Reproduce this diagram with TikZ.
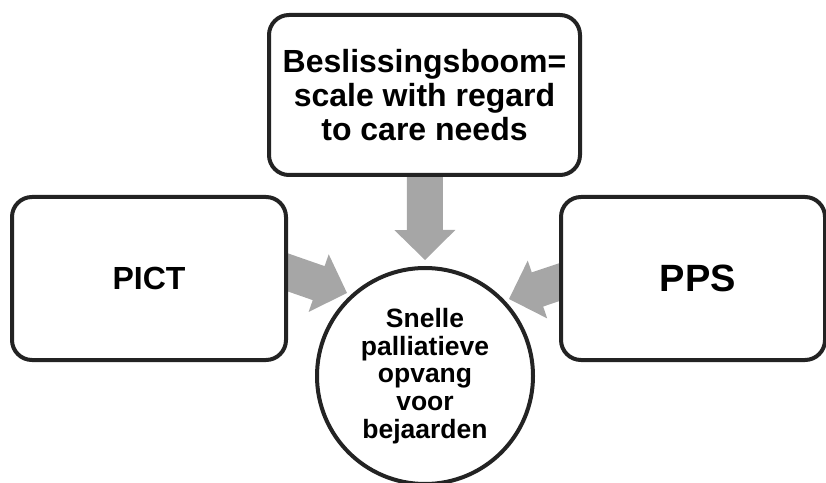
\documentclass[tikz,border=0pt]{standalone}
\usepackage{fontspec}
\setmainfont{Liberation Sans}
\usepackage{tikz}
\usetikzlibrary{positioning,calc}
\pgfdeclarelayer{background}
\pgfsetlayers{background,main}
\definecolor{pijlgrijs}{RGB}{166,166,166}
\definecolor{lijn}{RGB}{35,35,35}
\tikzstyle{blok}=[draw=lijn, line width=4pt, fill=white, rounded corners=20pt,
  align=center, inner sep=0pt]
\tikzstyle{kern}=[blok, circle, minimum size=216pt]
\newcommand{\blok}[3]{node (b#1)[blok,#2]{#3}}
\newcommand{\pijl}[3]{%
  \coordinate (h#3) at ($(#2)!30pt!(#1)$);
  \fill[pijlgrijs] ($(#1)!18pt!90:(#2)$) -- ($(h#3)!18pt!-90:(#1)$)
    -- ($(h#3)!30.5pt!-90:(#1)$) -- (#2) -- ($(h#3)!30.5pt!90:(#1)$)
    -- ($(h#3)!18pt!90:(#1)$) -- ($(#1)!18pt!-90:(#2)$) -- cycle;}

\begin{document}
\begin{tikzpicture}[x=1pt,y=1pt]
  \useasboundingbox (0,0) rectangle (826,482);

  % Draw diagram elements
  \path (424.5,387) \blok{1}{minimum width=311pt, minimum height=160pt,
    font=\bfseries\fontsize{32}{34}\selectfont}{Beslissingsboom=\\scale with regard\\to care needs};
  \path (149,203.5) \blok{2}{minimum width=274pt, minimum height=163pt,
    font=\bfseries\fontsize{32}{34}\selectfont}{PICT};
  \path (693,203.5) \blok{3}{minimum width=264pt, minimum height=163pt,
    font=\bfseries\fontsize{38}{40}\selectfont}{\hspace*{10pt}PPS};
  \node (c)[kern, font=\bfseries\fontsize{26.5}{27.7}\selectfont] at (425,106)
    {Snelle\\palliatieve\\opvang\\voor\\bejaarden};

  % Draw arrows between elements
  \coordinate (t1) at ($(c)+(0,116)$);
  \coordinate (t2) at ($(c)+(-78,83)$);
  \coordinate (t3) at ($(c)+(84,77)$);
  \coordinate (s2) at ($(b2.east)+(-40,20)$);
  \coordinate (s3) at ($(b3.west)+(38,9)$);
  \begin{pgfonlayer}{background}
    \pijl{b1.center}{t1}{1}
    \pijl{s2}{t2}{2}
    \pijl{s3}{t3}{3}
  \end{pgfonlayer}

\end{tikzpicture}
\end{document}
